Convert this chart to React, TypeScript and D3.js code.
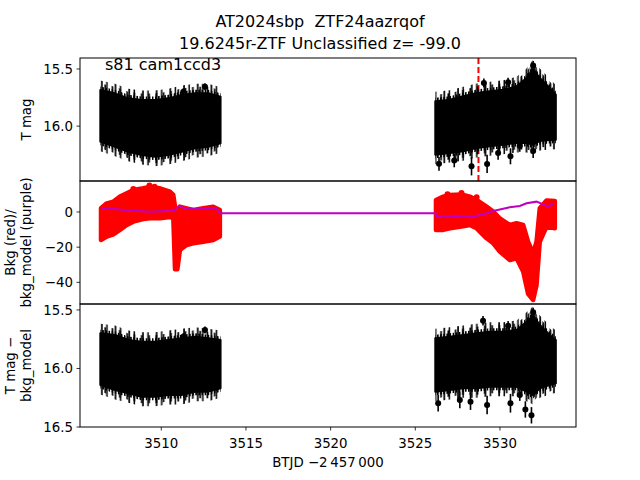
import React from "react";
import * as d3 from "d3";

// ---------- data ----------
const titleLine1 = "AT2024sbp  ZTF24aazrqof";
const titleLine2 = "19.6245r-ZTF Unclassified z= -99.0";
const sectorLabel = "s81 cam1ccd3";
const xTicks = [3510, 3515, 3520, 3525, 3530];
const topTicks = [15.5, 16.0];
const midTicks = [0, -20, -40];
const botTicks = [15.5, 16.0, 16.5];
const peakTime = 3528.73;

// Segment time grids (BTJD - 2457000)
const seg1T = [3506.4, 3507.27, 3508.05, 3508.84, 3509.63, 3510.41, 3511.2, 3511.99, 3512.77, 3513.5];
const seg2T = [3526.18, 3527.04, 3527.83, 3528.62, 3529.4, 3530.19, 3530.98, 3531.57, 3531.96, 3532.35, 3532.94, 3533.3];

// Top panel: T mag, bulk of the error-bar cloud (bright edge / faint edge)
const top1Hi = [15.684, 15.713, 15.757, 15.771, 15.771, 15.757, 15.728, 15.713, 15.713, 15.743];
const top1Lo = [16.136, 16.18, 16.224, 16.253, 16.267, 16.253, 16.224, 16.194, 16.18, 16.15];
const top2Hi = [15.783, 15.769, 15.739, 15.71, 15.695, 15.681, 15.652, 15.579, 15.5, 15.579, 15.666, 15.725];
const top2Lo = [16.25, 16.235, 16.22, 16.191, 16.176, 16.162, 16.148, 16.148, 16.16, 16.13, 16.121, 16.119];

// Bottom panel: T mag - bkg_model
const bot1Hi = [15.699, 15.714, 15.757, 15.771, 15.771, 15.757, 15.742, 15.728, 15.742, 15.757];
const bot1Lo = [16.141, 16.184, 16.212, 16.241, 16.241, 16.227, 16.227, 16.198, 16.198, 16.169];
const bot2Hi = [15.742, 15.728, 15.714, 15.699, 15.686, 15.686, 15.671, 15.6, 15.55, 15.628, 15.714, 15.757];
const bot2Lo = [16.198, 16.184, 16.169, 16.169, 16.156, 16.156, 16.156, 16.198, 16.227, 16.169, 16.141, 16.127];

// Outlier error-bar points (time, mag, half error)
const topOutT = [3512.58, 3511.3, 3529.05, 3530.48, 3531.96, 3528.32, 3529.24, 3529.89, 3530.62, 3531.17, 3531.96, 3526.4, 3527.3];
const topOutM = [15.655, 15.699, 15.623, 15.617, 15.47, 16.351, 16.331, 16.235, 16.264, 16.174, 16.218, 16.33, 16.3];
const topOutE = [0.03, 0.03, 0.04, 0.04, 0.04, 0.08, 0.08, 0.06, 0.07, 0.05, 0.06, 0.06, 0.06];
const botOutT = [3512.58, 3511.3, 3529.0, 3530.48, 3531.96, 3526.35, 3527.63, 3528.26, 3529.24, 3530.62, 3531.17, 3531.86, 3531.5];
const botOutM = [15.671, 15.728, 15.592, 15.634, 15.52, 16.297, 16.269, 16.284, 16.312, 16.297, 16.227, 16.4, 16.35];
const botOutE = [0.03, 0.03, 0.04, 0.04, 0.04, 0.07, 0.07, 0.07, 0.08, 0.08, 0.05, 0.07, 0.07];

// Middle panel: background (red) envelope
const bkg1T = [3506.44, 3506.78, 3507.17, 3507.56, 3507.96, 3508.35, 3508.94, 3509.33, 3509.92, 3510.51, 3510.71, 3510.81, 3510.95, 3511.1, 3511.5, 3511.89, 3512.48, 3513.07, 3513.46];
const bkg1Hi = [2.08, 4.92, 5.87, 8.71, 10.6, 12.5, 13.45, 14.2, 13.45, 11.55, 9.66, 3.03, -5.49, 3.03, 2.08, 1.14, 2.08, 3.03, 1.14];
const bkg1Lo = [-15.9, -14.0, -12.7, -10.2, -7.4, -5.49, -3.98, -3.6, -3.6, -2.84, -3.6, -32.5, -32.5, -21.6, -18.75, -17.8, -16.9, -15.9, -14.0];
const bkg2T = [3526.22, 3526.65, 3527.04, 3527.73, 3528.22, 3528.62, 3529.21, 3529.6, 3529.99, 3530.58, 3530.98, 3531.37, 3531.66, 3531.96, 3532.16, 3532.35, 3532.75, 3533.24];
const bkg2Hi = [6.82, 8.71, 9.66, 10.0, 8.71, 6.82, 3.03, 0.19, -3.6, -7.4, -6.44, -7.4, -16.9, -23.5, -16.9, 2.08, 6.5, 6.25];
const bkg2Lo = [-10.2, -10.2, -9.28, -8.33, -7.4, -9.28, -14.96, -17.8, -22.5, -27.3, -26.3, -33.9, -46.5, -50.0, -41.5, -16.9, -8.33, -9.28];
const bkgOutT = [3508.35, 3509.3, 3509.6, 3527.73, 3528.62, 3526.9];
const bkgOutV = [13.1, 15.0, 14.3, 10.8, 8.3, 10.0];

// Middle panel: bkg_model (purple)
const modelT = [3506.48, 3507.17, 3508.35, 3509.33, 3510.32, 3510.71, 3511.0, 3511.5, 3512.09, 3512.68, 3513.27, 3513.46, 3526.2, 3526.26, 3527.44, 3528.42, 3529.01, 3529.6, 3530.58, 3531.17, 3531.57, 3532.16, 3532.55, 3532.84, 3533.18];
const modelV = [2.08, 1.7, 0.76, 0.19, 0.57, 0.57, 3.03, 2.08, 1.5, 2.08, 2.08, -0.76, -0.76, -2.65, -2.08, -2.65, -1.3, 0.57, 2.65, 3.4, 4.92, 5.87, 4.36, 3.03, 4.92];

// ---------- layout ----------
const W = 640, H = 480;
const L = 80, R = 576;
const P1 = [58, 181], P2 = [181, 304], P3 = [304, 427];
const FONT = "DejaVu Sans, sans-serif";

type Lin = d3.ScaleLinear<number, number>;

export default function App() {
  const x = d3.scaleLinear().domain([3505.2, 3534.49]).range([L, R]);
  const yTop = d3.scaleLinear().domain([15.404, 16.48]).range(P1);
  const yMid = d3.scaleLinear().domain([17.6, -52.3]).range(P2);
  const yBot = d3.scaleLinear().domain([15.449, 16.5]).range(P3);

  const idx = (a: number[]) => a.map((_, i) => i);
  // band between two edges; `pad` widens it vertically in pixels (for the error-bar fringe)
  const band = (ts: number[], hi: number[], lo: number[], y: Lin, pad = 0) =>
    d3.area<number>()
      .x((i) => x(ts[i]))
      .y0((i) => y(lo[i]) + pad)
      .y1((i) => y(hi[i]) - pad)(idx(ts)) || "";
  const line = (ts: number[], v: number[], y: Lin) =>
    d3.line<number>().x((i) => x(ts[i])).y((i) => y(v[i]))(idx(ts)) || "";

  const modelLine = line(modelT, modelV, yMid);

  const fmtMid = (v: number) => (v < 0 ? "\u2212" + Math.abs(v) : String(v));

  const yAxis = (ticks: number[], y: Lin, fmt: (v: number) => string) =>
    ticks.map((t) => (
      <g key={t}>
        <line x1={L - 3.5} x2={L} y1={y(t)} y2={y(t)} stroke="#000" strokeWidth={0.8} />
        <text x={L - 7} y={y(t)} dy="0.35em" textAnchor="end" fontSize={13.33}>
          {fmt(t)}
        </text>
      </g>
    ));

  const errPts = (ts: number[], ms: number[], es: number[], y: Lin) =>
    ts.map((t, i) => (
      <g key={i}>
        <line x1={x(t)} x2={x(t)} y1={y(ms[i] - es[i])} y2={y(ms[i] + es[i])} stroke="#000" strokeWidth={1.6} />
        <circle cx={x(t)} cy={y(ms[i])} r={3} fill="#000" />
      </g>
    ));

  // cloud of error bars: solid bulk + vertical-bar fringe of irregular lengths
  const cloud = (ts: number[], hi: number[], lo: number[], y: Lin, k: string) => (
    <g key={k}>
      <path d={band(ts, hi, lo, y, 9.5)} fill="url(#pC)" />
      <path d={band(ts, hi, lo, y, 6.5)} fill="url(#pB)" />
      <path d={band(ts, hi, lo, y, 3.5)} fill="url(#pA)" />
      <path d={band(ts, hi, lo, y)} fill="#000" stroke="#000" strokeWidth={2} strokeLinejoin="round" />
    </g>
  );

  const redCloud = (ts: number[], hi: number[], lo: number[], k: string) => (
    <path key={k} d={band(ts, hi, lo, yMid)} fill="red" stroke="red" strokeWidth={4.5} strokeLinejoin="round" />
  );

  return (
    <svg width={W} height={H} style={{ position: "absolute", left: 0, top: 0, background: "#fff" }} fontFamily={FONT}>
      <rect width={W} height={H} fill="#fff" />
      <defs>
        <clipPath id="c1"><rect x={L} y={P1[0]} width={R - L} height={P1[1] - P1[0]} /></clipPath>
        <clipPath id="c2"><rect x={L} y={P2[0]} width={R - L} height={P2[1] - P2[0]} /></clipPath>
        <clipPath id="c3"><rect x={L} y={P3[0]} width={R - L} height={P3[1] - P3[0]} /></clipPath>
        <pattern id="pA" width={3.1} height={10} patternUnits="userSpaceOnUse">
          <rect x={0} width={1.6} height={10} fill="#000" />
        </pattern>
        <pattern id="pB" width={7.3} height={10} patternUnits="userSpaceOnUse">
          <rect x={2.2} width={1.7} height={10} fill="#000" />
        </pattern>
        <pattern id="pC" width={13.7} height={10} patternUnits="userSpaceOnUse">
          <rect x={5.1} width={1.7} height={10} fill="#000" />
          <rect x={10.3} width={1.5} height={10} fill="#000" />
        </pattern>
      </defs>

      {/* titles */}
      <text x={320} y={27} textAnchor="middle" fontSize={16} style={{ whiteSpace: "pre" }}>{titleLine1}</text>
      <text x={320} y={48.5} textAnchor="middle" fontSize={16}>{titleLine2}</text>

      {/* top panel */}
      <g clipPath="url(#c1)">
        <line x1={x(peakTime)} x2={x(peakTime)} y1={P1[0]} y2={P1[1]} stroke="red" strokeWidth={2} strokeDasharray="6,3" />
        {cloud(seg1T, top1Hi, top1Lo, yTop, "a")}
        {cloud(seg2T, top2Hi, top2Lo, yTop, "b")}
        {errPts(topOutT, topOutM, topOutE, yTop)}
      </g>
      <text x={105} y={69.5} fontSize={16}>{sectorLabel}</text>

      {/* middle panel */}
      <g clipPath="url(#c2)">
        {redCloud(bkg1T, bkg1Hi, bkg1Lo, "r1")}
        {redCloud(bkg2T, bkg2Hi, bkg2Lo, "r2")}
        {bkgOutT.map((t, i) => (
          <circle key={i} cx={x(t)} cy={yMid(bkgOutV[i])} r={3} fill="red" />
        ))}
        <path d={modelLine} fill="none" stroke="#bf00bf" strokeWidth={2} />
      </g>

      {/* bottom panel */}
      <g clipPath="url(#c3)">
        {cloud(seg1T, bot1Hi, bot1Lo, yBot, "c")}
        {cloud(seg2T, bot2Hi, bot2Lo, yBot, "d")}
        {errPts(botOutT, botOutM, botOutE, yBot)}
      </g>

      {/* frames */}
      {[P1, P2, P3].map((p, i) => (
        <rect key={i} x={L} y={p[0]} width={R - L} height={p[1] - p[0]} fill="none" stroke="#000" strokeWidth={1} />
      ))}

      {/* y axes */}
      {yAxis(topTicks, yTop, (v) => v.toFixed(1))}
      {yAxis(midTicks, yMid, fmtMid)}
      {yAxis(botTicks, yBot, (v) => v.toFixed(1))}

      {/* x axis */}
      {xTicks.map((t) => (
        <g key={t}>
          <line x1={x(t)} x2={x(t)} y1={P3[1]} y2={P3[1] + 3.5} stroke="#000" strokeWidth={0.8} />
          <text x={x(t)} y={448} textAnchor="middle" fontSize={13.33}>{t}</text>
        </g>
      ))}
      <text x={(L + R) / 2} y={467} textAnchor="middle" fontSize={13.33}>{"BTJD \u22122\u2009457\u2009000"}</text>

      {/* y labels */}
      <text transform={`translate(31,${(P1[0] + P1[1]) / 2}) rotate(-90)`} textAnchor="middle" fontSize={13.33}>T mag</text>
      <text transform={`translate(15,${(P2[0] + P2[1]) / 2}) rotate(-90)`} textAnchor="middle" fontSize={13.33}>Bkg (red)/</text>
      <text transform={`translate(31,${(P2[0] + P2[1]) / 2}) rotate(-90)`} textAnchor="middle" fontSize={13.33}>bkg_model (purple)</text>
      <text transform={`translate(15,${(P3[0] + P3[1]) / 2}) rotate(-90)`} textAnchor="middle" fontSize={13.33}>T mag −</text>
      <text transform={`translate(31,${(P3[0] + P3[1]) / 2}) rotate(-90)`} textAnchor="middle" fontSize={13.33}>bkg_model</text>
    </svg>
  );
}
